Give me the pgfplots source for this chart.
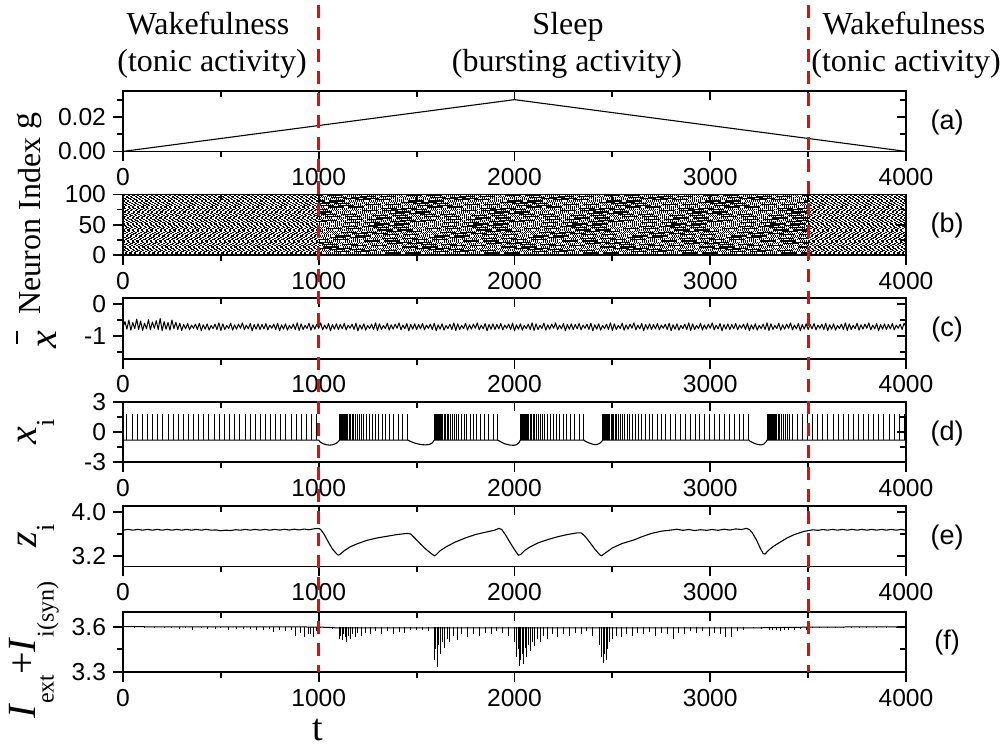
\documentclass[border=0pt]{standalone}
\usepackage{fontspec}
\setmainfont{Liberation Serif}
\setsansfont{Liberation Sans}
\usepackage{pgfplots}
\pgfplotsset{compat=1.18}

\definecolor{markred}{RGB}{255,0,0}

\pgfplotsset{
  panel/.style={
    scale only axis, width=391.5pt, height=30.2pt, anchor=north west,
    xmin=0, xmax=4000, scaled y ticks=false, scaled x ticks=false,
    axis line style={line width=0.9pt},
    tick style={black, line width=0.9pt},
    major tick length=5pt, minor tick length=3pt,
    tick align=outside, xtick pos=bottom, ytick pos=left,
    xtick={0,1000,2000,3000,4000},
    xticklabels={0,1000,2000,3000,4000},
    minor xtick={500,1500,2500,3500},
    tick label style={font=\fontsize{12.3}{12.3}\selectfont\sffamily},
    /pgf/number format/assume math mode=true,
  },
  inner ticks/.style={
    panel, tick align=inside, xtick pos=top, ytick pos=right,
    xticklabels={}, yticklabels={}, major tick length=4.5pt,
  },
  trace/.style={black, line width=0.55pt, line join=round},
  spikes/.style={black, draw=none, mark=none,
    error bars/y dir=minus, error bars/error mark=none,
    error bars/error bar style={draw=black, line width=0.45pt}},
  raster wake/.style={black, line width=0.6pt, dash pattern=on 1.1pt off 1.2pt},
  raster sleep/.style={black, line width=0.6pt,
    dash pattern=on 0.7pt off 0.3pt on 0.7pt off 0.3pt on 0.7pt off 0.3pt on 0.7pt off 0.3pt
                 on 0.7pt off 0.3pt on 0.7pt off 0.3pt on 0.7pt off 0.3pt on 0.7pt off 2.2pt},
}

\begin{document}
\begin{tikzpicture}

% ---------------- (a) coupling strength g ----------------
\begin{axis}[panel, at={(61.5pt,-45.5pt)}, ymin=0, ymax=0.035,
  ytick={0,0.02}, yticklabels={0.00,0.02}, minor ytick={0.01,0.03}]
\addplot[trace] coordinates {(0,0) (2000,0.03) (4000,0)};
\end{axis}
\begin{axis}[inner ticks, at={(61.5pt,-45.5pt)}, ymin=0, ymax=0.035,
  ytick={0,0.02}, minor ytick={0.01,0.03}]
\end{axis}

% ---------------- (b) raster of spikes ----------------
% row index / phase during tonic firing / phase during bursting (pt)
\begin{axis}[panel, at={(61.5pt,-97.2pt)}, ymin=0, ymax=100,
  ytick={0,50,100}, yticklabels={0,50,100}, minor ytick={25,75}]
\foreach \n/\p/\q in {
  1/0.0/0.0, 3/1.4/6.3, 5/0.7/2.1, 7/2.0/8.4, 9/0.3/4.6, 11/1.1/1.2,
  13/1.8/7.7, 15/0.5/3.5, 17/1.6/8.1, 19/0.9/5.3, 21/2.2/0.8, 23/0.2/6.9,
  25/1.3/2.7, 27/0.6/7.8, 29/1.9/4.1, 31/1.0/1.6, 33/0.4/7.3, 35/1.7/3.0,
  37/0.8/8.5, 39/2.1/5.8, 41/0.1/0.4, 43/1.5/6.1, 45/0.6/2.4, 47/1.2/8.0,
  49/1.9/4.9, 51/0.3/1.9, 53/1.0/7.0, 55/2.2/3.8, 57/0.7/8.7, 59/1.4/5.5,
  61/0.2/0.9, 63/1.8/6.6, 65/0.9/2.9, 67/1.6/8.6, 69/0.4/4.3, 71/2.0/1.3,
  73/1.1/7.9, 75/0.5/3.3, 77/1.7/8.3, 79/0.0/5.1, 81/1.3/0.2, 83/2.1/6.4,
  85/0.8/2.2, 87/1.5/8.2, 89/0.3/4.7, 91/1.2/1.5, 93/1.9/7.5, 95/0.6/3.6,
  97/1.0/8.9, 99/2.2/5.7} {
  \edef\rows{%
    \noexpand\addplot[raster wake, dash phase=\p pt] coordinates {(0,\n) (1000,\n)};
    \noexpand\addplot[raster sleep, dash phase=\q pt] coordinates {(1000,\n) (3500,\n)};
    \noexpand\addplot[raster wake, dash phase=\p pt] coordinates {(3500,\n) (4000,\n)};}
  \rows
}
\end{axis}
\begin{axis}[inner ticks, at={(61.5pt,-97.2pt)}, ymin=0, ymax=100,
  ytick={0,50,100}, minor ytick={25,75}]
\end{axis}

% ---------------- (c) mean membrane potential ----------------
\begin{axis}[panel, at={(61.5pt,-149.1pt)}, ymin=-1.72, ymax=0.19,
  ytick={-1,0}, yticklabels={-1,0}, minor ytick={-1.5,-0.5}]
\addplot[trace, line width=0.5pt] coordinates {
(0,-0.72)(10,-0.55)(20,-0.79)(30,-0.50)(40,-0.82)(50,-0.58)(60,-0.77)(70,-0.47)(80,-0.80)(90,-0.53)
(100,-0.83)(110,-0.60)(120,-0.78)(130,-0.49)(140,-0.81)(150,-0.56)(160,-0.76)(170,-0.52)(180,-0.80)(190,-0.45)
(200,-0.84)(210,-0.55)(220,-0.79)(230,-0.58)(240,-0.82)(250,-0.50)(260,-0.77)(270,-0.57)(280,-0.80)(290,-0.60)
(300,-0.83)(310,-0.64)(320,-0.78)(330,-0.61)(340,-0.81)(350,-0.66)(360,-0.76)(370,-0.63)(380,-0.80)(390,-0.60)
(400,-0.84)(410,-0.65)(420,-0.79)(430,-0.62)(440,-0.82)(450,-0.67)(460,-0.77)(470,-0.63)(480,-0.80)(490,-0.59)
(500,-0.83)(510,-0.62)(520,-0.80)(530,-0.67)(540,-0.77)(550,-0.60)(560,-0.82)(570,-0.65)(580,-0.79)(590,-0.63)
(600,-0.76)(610,-0.59)(620,-0.81)(630,-0.66)(640,-0.78)(650,-0.61)(660,-0.84)(670,-0.64)(680,-0.79)(690,-0.62)
(700,-0.80)(710,-0.64)(720,-0.78)(730,-0.61)(740,-0.81)(750,-0.66)(760,-0.76)(770,-0.63)(780,-0.80)(790,-0.60)
(800,-0.84)(810,-0.65)(820,-0.79)(830,-0.62)(840,-0.82)(850,-0.67)(860,-0.77)(870,-0.63)(880,-0.80)(890,-0.59)
(900,-0.83)(910,-0.62)(920,-0.80)(930,-0.67)(940,-0.77)(950,-0.60)(960,-0.82)(970,-0.65)(980,-0.79)(990,-0.63)
(1000,-0.76)(1010,-0.59)(1020,-0.81)(1030,-0.66)(1040,-0.78)(1050,-0.61)(1060,-0.84)(1070,-0.64)(1080,-0.79)(1090,-0.62)
(1100,-0.80)(1110,-0.64)(1120,-0.78)(1130,-0.61)(1140,-0.81)(1150,-0.66)(1160,-0.76)(1170,-0.63)(1180,-0.80)(1190,-0.60)
(1200,-0.84)(1210,-0.65)(1220,-0.79)(1230,-0.62)(1240,-0.82)(1250,-0.67)(1260,-0.77)(1270,-0.63)(1280,-0.80)(1290,-0.59)
(1300,-0.83)(1310,-0.62)(1320,-0.80)(1330,-0.67)(1340,-0.77)(1350,-0.60)(1360,-0.82)(1370,-0.65)(1380,-0.79)(1390,-0.63)
(1400,-0.76)(1410,-0.59)(1420,-0.81)(1430,-0.66)(1440,-0.78)(1450,-0.61)(1460,-0.84)(1470,-0.64)(1480,-0.79)(1490,-0.62)
(1500,-0.80)(1510,-0.64)(1520,-0.78)(1530,-0.61)(1540,-0.81)(1550,-0.66)(1560,-0.76)(1570,-0.63)(1580,-0.80)(1590,-0.60)
(1600,-0.84)(1610,-0.65)(1620,-0.79)(1630,-0.62)(1640,-0.82)(1650,-0.67)(1660,-0.77)(1670,-0.63)(1680,-0.80)(1690,-0.59)
(1700,-0.83)(1710,-0.62)(1720,-0.80)(1730,-0.67)(1740,-0.77)(1750,-0.60)(1760,-0.82)(1770,-0.65)(1780,-0.79)(1790,-0.63)
(1800,-0.76)(1810,-0.59)(1820,-0.81)(1830,-0.66)(1840,-0.78)(1850,-0.61)(1860,-0.84)(1870,-0.64)(1880,-0.79)(1890,-0.62)
(1900,-0.80)(1910,-0.64)(1920,-0.78)(1930,-0.61)(1940,-0.81)(1950,-0.66)(1960,-0.76)(1970,-0.63)(1980,-0.80)(1990,-0.60)
(2000,-0.84)(2010,-0.65)(2020,-0.79)(2030,-0.62)(2040,-0.82)(2050,-0.67)(2060,-0.77)(2070,-0.63)(2080,-0.80)(2090,-0.59)
(2100,-0.83)(2110,-0.62)(2120,-0.80)(2130,-0.67)(2140,-0.77)(2150,-0.60)(2160,-0.82)(2170,-0.65)(2180,-0.79)(2190,-0.63)
(2200,-0.76)(2210,-0.59)(2220,-0.81)(2230,-0.66)(2240,-0.78)(2250,-0.61)(2260,-0.84)(2270,-0.64)(2280,-0.79)(2290,-0.62)
(2300,-0.80)(2310,-0.64)(2320,-0.78)(2330,-0.61)(2340,-0.81)(2350,-0.66)(2360,-0.76)(2370,-0.63)(2380,-0.80)(2390,-0.60)
(2400,-0.84)(2410,-0.65)(2420,-0.79)(2430,-0.62)(2440,-0.82)(2450,-0.67)(2460,-0.77)(2470,-0.63)(2480,-0.80)(2490,-0.59)
(2500,-0.83)(2510,-0.62)(2520,-0.80)(2530,-0.67)(2540,-0.77)(2550,-0.60)(2560,-0.82)(2570,-0.65)(2580,-0.79)(2590,-0.63)
(2600,-0.76)(2610,-0.59)(2620,-0.81)(2630,-0.66)(2640,-0.78)(2650,-0.61)(2660,-0.84)(2670,-0.64)(2680,-0.79)(2690,-0.62)
(2700,-0.80)(2710,-0.64)(2720,-0.78)(2730,-0.61)(2740,-0.81)(2750,-0.66)(2760,-0.76)(2770,-0.63)(2780,-0.80)(2790,-0.60)
(2800,-0.84)(2810,-0.65)(2820,-0.79)(2830,-0.62)(2840,-0.82)(2850,-0.67)(2860,-0.77)(2870,-0.63)(2880,-0.80)(2890,-0.59)
(2900,-0.83)(2910,-0.62)(2920,-0.80)(2930,-0.67)(2940,-0.77)(2950,-0.60)(2960,-0.82)(2970,-0.65)(2980,-0.79)(2990,-0.63)
(3000,-0.76)(3010,-0.59)(3020,-0.81)(3030,-0.66)(3040,-0.78)(3050,-0.61)(3060,-0.84)(3070,-0.64)(3080,-0.79)(3090,-0.62)
(3100,-0.80)(3110,-0.64)(3120,-0.78)(3130,-0.61)(3140,-0.81)(3150,-0.66)(3160,-0.76)(3170,-0.63)(3180,-0.80)(3190,-0.60)
(3200,-0.84)(3210,-0.65)(3220,-0.79)(3230,-0.62)(3240,-0.82)(3250,-0.67)(3260,-0.77)(3270,-0.63)(3280,-0.80)(3290,-0.59)
(3300,-0.83)(3310,-0.62)(3320,-0.80)(3330,-0.67)(3340,-0.77)(3350,-0.60)(3360,-0.82)(3370,-0.65)(3380,-0.79)(3390,-0.63)
(3400,-0.76)(3410,-0.59)(3420,-0.81)(3430,-0.66)(3440,-0.78)(3450,-0.61)(3460,-0.84)(3470,-0.64)(3480,-0.79)(3490,-0.62)
(3500,-0.80)(3510,-0.64)(3520,-0.78)(3530,-0.61)(3540,-0.81)(3550,-0.66)(3560,-0.76)(3570,-0.63)(3580,-0.80)(3590,-0.60)
(3600,-0.84)(3610,-0.65)(3620,-0.79)(3630,-0.62)(3640,-0.82)(3650,-0.67)(3660,-0.77)(3670,-0.63)(3680,-0.80)(3690,-0.59)
(3700,-0.83)(3710,-0.62)(3720,-0.80)(3730,-0.67)(3740,-0.77)(3750,-0.60)(3760,-0.82)(3770,-0.65)(3780,-0.79)(3790,-0.63)
(3800,-0.76)(3810,-0.59)(3820,-0.81)(3830,-0.66)(3840,-0.78)(3850,-0.61)(3860,-0.84)(3870,-0.64)(3880,-0.79)(3890,-0.62)
(3900,-0.80)(3910,-0.64)(3920,-0.78)(3930,-0.61)(3940,-0.81)(3950,-0.66)(3960,-0.76)(3970,-0.63)(3980,-0.80)(3990,-0.60)
(4000,-0.72)};
\end{axis}
\begin{axis}[inner ticks, at={(61.5pt,-149.1pt)}, ymin=-1.72, ymax=0.19,
  ytick={-1,0}, minor ytick={-1.5,-0.5}]
\end{axis}

% ---------------- (d) membrane potential of one neuron ----------------
\begin{axis}[panel, at={(61.5pt,-200.9pt)}, ymin=-3, ymax=3,
  ytick={-3,0,3}, yticklabels={-3,0,3}, minor ytick={-1.5,1.5}]
% subthreshold trajectory with the hyperpolarised pauses
\addplot[trace] coordinates {
(0,-0.8)(1000,-0.8)(1005,-0.95)(1020,-1.15)(1040,-1.27)(1055,-1.3)(1070,-1.27)(1090,-1.12)(1103,-0.9)(1106,-0.8)
(1455,-0.8)(1465,-0.9)(1490,-1.1)(1520,-1.24)(1545,-1.28)(1565,-1.24)(1580,-1.08)(1590,-0.8)
(1914,-0.8)(1925,-0.92)(1950,-1.17)(1975,-1.29)(1995,-1.32)(2010,-1.26)(2022,-1.08)(2030,-0.8)
(2354,-0.8)(2362,-0.92)(2385,-1.12)(2405,-1.24)(2420,-1.25)(2435,-1.13)(2447,-0.9)(2450,-0.8)
(3197,-0.8)(3205,-0.93)(3225,-1.13)(3245,-1.25)(3262,-1.28)(3275,-1.18)(3287,-0.93)(3290,-0.8)
(4000,-0.8)};
% spike times: each spike rises from -0.8 to 1.75
\addplot[spikes, error bars/y fixed=2.55] coordinates {
(20,1.75)(46,1.75)(72,1.75)(99,1.75)(125,1.75)(151,1.75)(177,1.75)(203,1.75)(230,1.75)(256,1.75)
(282,1.75)(308,1.75)(334,1.75)(361,1.75)(387,1.75)(413,1.75)(439,1.75)(465,1.75)(492,1.75)(518,1.75)
(544,1.75)(570,1.75)(596,1.75)(623,1.75)(649,1.75)(675,1.75)(701,1.75)(727,1.75)(754,1.75)(780,1.75)
(806,1.75)(832,1.75)(858,1.75)(885,1.75)(911,1.75)(937,1.75)(963,1.75)(989,1.75)
(1105,1.75)(1108,1.75)(1111,1.75)(1114,1.75)(1118,1.75)(1122,1.75)(1126,1.75)(1131,1.75)(1136,1.75)(1142,1.75)
(1148,1.75)(1155,1.75)(1162,1.75)(1170,1.75)(1178,1.75)(1187,1.75)(1197,1.75)(1207,1.75)(1218,1.75)(1230,1.75)
(1243,1.75)(1257,1.75)(1272,1.75)(1288,1.75)(1305,1.75)(1323,1.75)(1342,1.75)(1362,1.75)(1383,1.75)(1405,1.75)
(1428,1.75)(1452,1.75)
(1590,1.75)(1593,1.75)(1596,1.75)(1599,1.75)(1603,1.75)(1607,1.75)(1611,1.75)(1616,1.75)(1621,1.75)(1627,1.75)
(1633,1.75)(1640,1.75)(1647,1.75)(1655,1.75)(1663,1.75)(1672,1.75)(1682,1.75)(1692,1.75)(1703,1.75)(1715,1.75)
(1728,1.75)(1742,1.75)(1757,1.75)(1773,1.75)(1790,1.75)(1808,1.75)(1827,1.75)(1847,1.75)(1868,1.75)(1890,1.75)
(1913,1.75)
(2030,1.75)(2033,1.75)(2036,1.75)(2039,1.75)(2043,1.75)(2047,1.75)(2051,1.75)(2056,1.75)(2061,1.75)(2067,1.75)
(2073,1.75)(2080,1.75)(2087,1.75)(2095,1.75)(2103,1.75)(2112,1.75)(2122,1.75)(2132,1.75)(2143,1.75)(2155,1.75)
(2168,1.75)(2182,1.75)(2197,1.75)(2213,1.75)(2230,1.75)(2248,1.75)(2267,1.75)(2287,1.75)(2308,1.75)(2330,1.75)
(2353,1.75)
(2450,1.75)(2453,1.75)(2456,1.75)(2459,1.75)(2463,1.75)(2467,1.75)(2471,1.75)(2476,1.75)(2481,1.75)(2487,1.75)
(2493,1.75)(2500,1.75)(2507,1.75)(2515,1.75)(2523,1.75)(2532,1.75)(2542,1.75)(2552,1.75)(2563,1.75)(2575,1.75)
(2588,1.75)(2602,1.75)(2617,1.75)(2633,1.75)(2650,1.75)(2668,1.75)(2687,1.75)(2707,1.75)(2728,1.75)(2750,1.75)
(2773,1.75)(2797,1.75)(2822,1.75)(2847,1.75)(2872,1.75)(2897,1.75)(2922,1.75)(2947,1.75)(2972,1.75)(2997,1.75)
(3022,1.75)(3047,1.75)(3072,1.75)(3097,1.75)(3122,1.75)(3147,1.75)(3172,1.75)(3195,1.75)
(3290,1.75)(3293,1.75)(3296,1.75)(3299,1.75)(3303,1.75)(3307,1.75)(3311,1.75)(3316,1.75)(3321,1.75)(3327,1.75)
(3333,1.75)(3340,1.75)(3347,1.75)(3355,1.75)(3363,1.75)(3372,1.75)(3382,1.75)(3392,1.75)(3403,1.75)
(3422,1.75)(3446,1.75)(3471,1.75)(3497,1.75)(3523,1.75)(3549,1.75)(3575,1.75)(3601,1.75)(3627,1.75)(3653,1.75)
(3679,1.75)(3705,1.75)(3731,1.75)(3757,1.75)(3783,1.75)(3809,1.75)(3835,1.75)(3861,1.75)(3887,1.75)(3913,1.75)
(3939,1.75)(3965,1.75)(3991,1.75)};
\end{axis}
\begin{axis}[inner ticks, at={(61.5pt,-200.9pt)}, ymin=-3, ymax=3,
  ytick={-3,0,3}, minor ytick={-1.5,1.5}]
\end{axis}

% ---------------- (e) slow variable z of the same neuron ----------------
\begin{axis}[panel, at={(61.5pt,-253.0pt)}, ymin=3.02, ymax=4.1,
  ytick={3.2,4.0}, yticklabels={3.2,4.0}, minor ytick={3.6}]
\addplot[trace] coordinates {
(0,3.668)(25,3.682)(50,3.668)(75,3.682)(100,3.668)(125,3.682)(150,3.668)(175,3.682)(200,3.668)(225,3.682)
(250,3.668)(275,3.682)(300,3.668)(325,3.682)(350,3.668)(375,3.682)(400,3.668)(425,3.682)(450,3.668)(475,3.672)
(500,3.658)(525,3.668)(550,3.662)(575,3.676)(600,3.668)(625,3.682)(650,3.668)(675,3.682)(700,3.668)(725,3.682)
(750,3.668)(775,3.682)(800,3.670)(825,3.684)(850,3.670)(875,3.686)(900,3.672)(925,3.688)(950,3.676)(975,3.692)
(1000,3.70)(1010,3.68)(1030,3.58)(1050,3.45)(1070,3.33)(1090,3.25)(1100,3.22)(1110,3.24)(1130,3.30)(1160,3.37)
(1200,3.43)(1250,3.49)(1300,3.53)(1350,3.56)(1400,3.59)(1450,3.61)(1470,3.60)(1490,3.53)(1520,3.42)(1550,3.32)
(1575,3.25)(1590,3.21)(1600,3.23)(1620,3.30)(1650,3.37)(1700,3.46)(1750,3.53)(1800,3.59)(1850,3.63)(1900,3.67)
(1920,3.70)(1935,3.68)(1955,3.58)(1975,3.46)(2000,3.32)(2020,3.22)(2030,3.23)(2050,3.30)(2080,3.37)(2120,3.44)
(2170,3.50)(2220,3.55)(2270,3.59)(2320,3.62)(2340,3.62)(2360,3.56)(2385,3.45)(2410,3.33)(2435,3.23)(2445,3.21)
(2460,3.25)(2500,3.35)(2550,3.43)(2607,3.49)(2650,3.55)(2700,3.61)(2750,3.65)(2800,3.67)(2830,3.685)(2860,3.665)
(2890,3.68)(2920,3.662)(2950,3.676)(2980,3.665)(3010,3.68)(3040,3.665)(3070,3.685)(3100,3.67)(3130,3.69)(3160,3.68)
(3185,3.70)(3200,3.68)(3215,3.62)(3235,3.50)(3255,3.35)(3270,3.25)(3280,3.24)(3295,3.30)(3323,3.38)(3360,3.46)
(3393,3.53)(3430,3.59)(3477,3.645)(3500,3.66)(3525,3.675)(3550,3.665)(3575,3.68)(3600,3.668)(3625,3.682)(3650,3.668)
(3675,3.682)(3700,3.668)(3725,3.682)(3750,3.668)(3775,3.682)(3800,3.668)(3825,3.682)(3850,3.668)(3875,3.682)(3900,3.668)
(3925,3.682)(3950,3.668)(3975,3.682)(4000,3.668)};
\end{axis}
\begin{axis}[inner ticks, at={(61.5pt,-253.0pt)}, ymin=3.02, ymax=4.1,
  ytick={3.2,4.0}, minor ytick={3.6}]
\end{axis}

% ---------------- (f) total input current ----------------
\begin{axis}[panel, at={(61.5pt,-305.8pt)}, ymin=3.3, ymax=3.7,
  ytick={3.3,3.6}, yticklabels={3.3,3.6}, minor ytick={3.45}]
\addplot[trace, line width=0.5pt] coordinates {(0,3.6) (1000,3.598) (1100,3.592) (3200,3.592) (3500,3.597) (4000,3.6)};
% downward deflections of the synaptic input
\addplot[spikes, error bars/y explicit] coordinates {
(60,3.6)-=(0,0.005)(110,3.6)-=(0,0.008)(160,3.6)-=(0,0.006)(210,3.6)-=(0,0.01)(245,3.6)-=(0,0.007)
(290,3.6)-=(0,0.012)(320,3.6)-=(0,0.008)(355,3.6)-=(0,0.025)(400,3.6)-=(0,0.01)(430,3.6)-=(0,0.012)
(470,3.6)-=(0,0.015)(500,3.6)-=(0,0.01)(540,3.6)-=(0,0.02)(580,3.6)-=(0,0.012)(615,3.6)-=(0,0.018)
(650,3.6)-=(0,0.015)(680,3.6)-=(0,0.022)(720,3.6)-=(0,0.02)(750,3.6)-=(0,0.015)(770,3.6)-=(0,0.035)
(800,3.6)-=(0,0.02)(830,3.6)-=(0,0.03)(860,3.6)-=(0,0.025)(880,3.6)-=(0,0.06)(905,3.6)-=(0,0.04)
(925,3.6)-=(0,0.07)(945,3.6)-=(0,0.05)(960,3.6)-=(0,0.045)(975,3.6)-=(0,0.065)(990,3.6)-=(0,0.03)
(1010,3.6)-=(0,0.01)(1040,3.6)-=(0,0.008)(1070,3.6)-=(0,0.015)(1105,3.6)-=(0,0.08)(1112,3.6)-=(0,0.06)
(1120,3.6)-=(0,0.09)(1128,3.6)-=(0,0.05)(1135,3.6)-=(0,0.07)(1142,3.6)-=(0,0.10)(1150,3.6)-=(0,0.06)
(1160,3.6)-=(0,0.08)(1170,3.6)-=(0,0.05)(1185,3.6)-=(0,0.07)(1200,3.6)-=(0,0.04)(1220,3.6)-=(0,0.06)
(1240,3.6)-=(0,0.04)(1265,3.6)-=(0,0.05)(1290,3.6)-=(0,0.03)(1320,3.6)-=(0,0.045)(1350,3.6)-=(0,0.03)
(1380,3.6)-=(0,0.05)(1410,3.6)-=(0,0.035)(1440,3.6)-=(0,0.04)(1470,3.6)-=(0,0.02)(1500,3.6)-=(0,0.025)
(1530,3.6)-=(0,0.02)(1560,3.6)-=(0,0.03)(1592,3.6)-=(0,0.22)(1598,3.6)-=(0,0.15)(1605,3.6)-=(0,0.27)
(1612,3.6)-=(0,0.12)(1620,3.6)-=(0,0.18)(1630,3.6)-=(0,0.10)(1640,3.6)-=(0,0.14)(1655,3.6)-=(0,0.08)
(1670,3.6)-=(0,0.10)(1690,3.6)-=(0,0.06)(1710,3.6)-=(0,0.09)(1730,3.6)-=(0,0.05)(1760,3.6)-=(0,0.07)
(1790,3.6)-=(0,0.05)(1820,3.6)-=(0,0.06)(1850,3.6)-=(0,0.04)(1880,3.6)-=(0,0.05)(1910,3.6)-=(0,0.03)
(1940,3.6)-=(0,0.04)(1970,3.6)-=(0,0.06)(2000,3.6)-=(0,0.10)(2010,3.6)-=(0,0.20)(2018,3.6)-=(0,0.15)
(2025,3.6)-=(0,0.26)(2032,3.6)-=(0,0.22)(2040,3.6)-=(0,0.18)(2048,3.6)-=(0,0.25)(2055,3.6)-=(0,0.14)
(2062,3.6)-=(0,0.20)(2070,3.6)-=(0,0.12)(2080,3.6)-=(0,0.16)(2090,3.6)-=(0,0.10)(2100,3.6)-=(0,0.13)
(2115,3.6)-=(0,0.08)(2130,3.6)-=(0,0.10)(2150,3.6)-=(0,0.06)(2170,3.6)-=(0,0.08)(2195,3.6)-=(0,0.05)
(2220,3.6)-=(0,0.07)(2250,3.6)-=(0,0.05)(2280,3.6)-=(0,0.06)(2310,3.6)-=(0,0.04)(2340,3.6)-=(0,0.05)
(2370,3.6)-=(0,0.03)(2400,3.6)-=(0,0.06)(2435,3.6)-=(0,0.12)(2445,3.6)-=(0,0.20)(2452,3.6)-=(0,0.24)
(2460,3.6)-=(0,0.18)(2468,3.6)-=(0,0.22)(2475,3.6)-=(0,0.15)(2485,3.6)-=(0,0.10)(2500,3.6)-=(0,0.08)
(2520,3.6)-=(0,0.06)(2545,3.6)-=(0,0.07)(2570,3.6)-=(0,0.05)(2600,3.6)-=(0,0.06)(2630,3.6)-=(0,0.04)
(2660,3.6)-=(0,0.05)(2690,3.6)-=(0,0.035)(2720,3.6)-=(0,0.06)(2750,3.6)-=(0,0.04)(2780,3.6)-=(0,0.05)
(2810,3.6)-=(0,0.08)(2840,3.6)-=(0,0.04)(2870,3.6)-=(0,0.05)(2900,3.6)-=(0,0.03)(2930,3.6)-=(0,0.04)
(2960,3.6)-=(0,0.03)(2995,3.6)-=(0,0.06)(3020,3.6)-=(0,0.04)(3050,3.6)-=(0,0.05)(3080,3.6)-=(0,0.07)
(3110,3.6)-=(0,0.07)(3140,3.6)-=(0,0.03)(3170,3.6)-=(0,0.02)(3220,3.6)-=(0,0.01)(3260,3.6)-=(0,0.015)
(3300,3.6)-=(0,0.02)(3320,3.6)-=(0,0.025)(3340,3.6)-=(0,0.02)(3360,3.6)-=(0,0.03)(3380,3.6)-=(0,0.02)
(3400,3.6)-=(0,0.025)(3430,3.6)-=(0,0.02)(3460,3.6)-=(0,0.015)(3490,3.6)-=(0,0.02)(3520,3.6)-=(0,0.01)
(3560,3.6)-=(0,0.008)(3600,3.6)-=(0,0.006)(3640,3.6)-=(0,0.01)(3680,3.6)-=(0,0.005)(3720,3.6)-=(0,0.007)
(3760,3.6)-=(0,0.005)(3800,3.6)-=(0,0.004)(3850,3.6)-=(0,0.006)(3900,3.6)-=(0,0.004)(3950,3.6)-=(0,0.003)};
\coordinate (wakeend) at (axis cs:1000,3.3);
\coordinate (sleepend) at (axis cs:3500,3.3);
\end{axis}
\begin{axis}[inner ticks, at={(61.5pt,-305.8pt)}, ymin=3.3, ymax=3.7,
  ytick={3.3,3.6}, minor ytick={3.45}]
\end{axis}

% ---------------- state annotations ----------------
\begin{scope}[every node/.style={font=\fontsize{16}{16}\selectfont, anchor=base, inner sep=0pt}]
\node at (104pt,-17.2pt) {Wakefulness};
\node at (106pt,-35.9pt) {(tonic activity)};
\node at (284pt,-17.2pt) {Sleep};
\node at (283.5pt,-35.9pt) {(bursting activity)};
\node at (452pt,-17.2pt) {Wakefulness};
\node at (453pt,-35.9pt) {(tonic activity)};
\end{scope}

% ---------------- panel letters ----------------
\begin{scope}[every node/.style={font=\fontsize{13.5}{13.5}\selectfont\sffamily, inner sep=0pt}]
\node at (473.5pt,-61.1pt) {(a)};
\node at (473.5pt,-112.8pt) {(b)};
\node at (473.5pt,-164.7pt) {(c)};
\node at (473.5pt,-216.5pt) {(d)};
\node at (473.5pt,-268.6pt) {(e)};
\node at (473.5pt,-321.4pt) {(f)};
\end{scope}

% ---------------- axis titles ----------------
\begin{scope}[every node/.style={rotate=90, inner sep=0pt}]
\node[font=\fontsize{17}{17}\selectfont] at (14.5pt,-60.5pt) {g};
\node[font=\fontsize{16}{16}\selectfont] at (15pt,-113pt) {Neuron Index};
\node[font=\fontsize{20}{20}\selectfont] at (18pt,-170pt)
  {\makebox[0pt][l]{\hspace{0.12em}\raisebox{0.95em}{\rule{0.32em}{0.05em}}}\textit{x}};
\node[font=\fontsize{20}{20}\selectfont] at (18pt,-216pt)
  {\textit{x}\raisebox{-0.45em}{\fontsize{13}{13}\selectfont i}};
\node[font=\fontsize{20}{20}\selectfont] at (18pt,-268pt)
  {\textit{z}\raisebox{-0.45em}{\fontsize{13}{13}\selectfont i}};
\node[font=\fontsize{20}{20}\selectfont] at (17pt,-325pt)
  {\textit{I}\raisebox{-0.45em}{\fontsize{12}{12}\selectfont ext}+\textit{I}\raisebox{-0.45em}{\fontsize{12}{12}\selectfont i(syn)}};
\end{scope}
\node[font=\fontsize{19}{19}\selectfont, inner sep=0pt] at (159pt,-365pt) {t};

% ---------------- state boundaries ----------------
\coordinate (figtop) at (0pt,-2.5pt);
\draw[markred, line width=1.6pt, dash pattern=on 6.5pt off 4.5pt] (wakeend |- figtop) -- (wakeend);
\draw[markred, line width=1.6pt, dash pattern=on 6.5pt off 4.5pt] (sleepend |- figtop) -- (sleepend);

\pgfresetboundingbox
\path[use as bounding box] (0pt,0pt) rectangle (503pt,-373pt);
\end{tikzpicture}
\end{document}
